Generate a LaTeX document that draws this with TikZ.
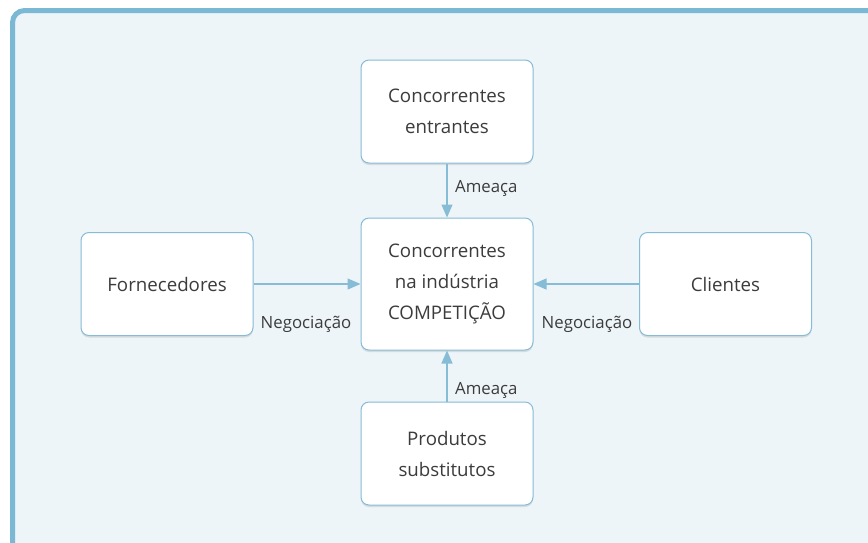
\documentclass[tikz,border=0pt]{standalone}
\usepackage{fontspec}
\setmainfont{Open Sans}
\usetikzlibrary{arrows.meta,shadows}
\definecolor{framebl}{HTML}{7AB8D4}
\definecolor{panelbl}{HTML}{EDF5F9}
\definecolor{boxline}{HTML}{86BCD6}
\definecolor{txtgray}{HTML}{3C3C3C}
\tikzset{
  forcebox/.style={draw=boxline, line width=1pt, fill=white, rounded corners=8pt,
    minimum width=172pt, minimum height=103pt, align=center, text=txtgray,
    font=\fontsize{18.7}{31}\selectfont,
    drop shadow={opacity=0.22, shadow xshift=0pt, shadow yshift=-2pt}},
  forcearrow/.style={draw=boxline, line width=1.2pt, -{Triangle[length=13pt,width=11pt]}},
  forcelabel/.style={text=txtgray, font=\fontsize{16.8}{18}\selectfont, inner sep=0pt}
}
\begin{document}
\begin{tikzpicture}[x=1pt,y=-1pt]
\useasboundingbox (0,0) rectangle (868,542);
% outer panel
\begin{scope}
\clip (0,0) rectangle (868,542);
\draw[draw=framebl, fill=panelbl, line width=5pt, rounded corners=12pt] (12.5,10.5) rectangle (900,580);
\end{scope}
% boxes
\node[forcebox] (entrantes) at (447,111.5) {Concorrentes\\entrantes};
\node[forcebox, minimum height=132pt] (industria) at (447,284) {Concorrentes\\na indústria\\COMPETIÇÃO};
\node[forcebox] (fornecedores) at (167,284) {Fornecedores};
\node[forcebox] (clientes) at (725.5,284) {Clientes};
\node[forcebox] (substitutos) at (447,453.5) {Produtos\\substitutos};
% arrows
\draw[forcearrow] (entrantes.south) -- (industria.north);
\draw[forcearrow] (substitutos.north) -- (industria.south);
\draw[forcearrow] (fornecedores.east) -- (industria.west);
\draw[forcearrow] (clientes.west) -- (industria.east);
% labels
\node[forcelabel, anchor=west] (ameacaA) at (455,188) {Ameaça};
\node[forcelabel, anchor=west] (ameacaB) at (455,390) {Ameaça};
\node[forcelabel] (negA) at (306,324) {Negociação};
\node[forcelabel] (negB) at (587,324) {Negociação};
\end{tikzpicture}
\end{document}
